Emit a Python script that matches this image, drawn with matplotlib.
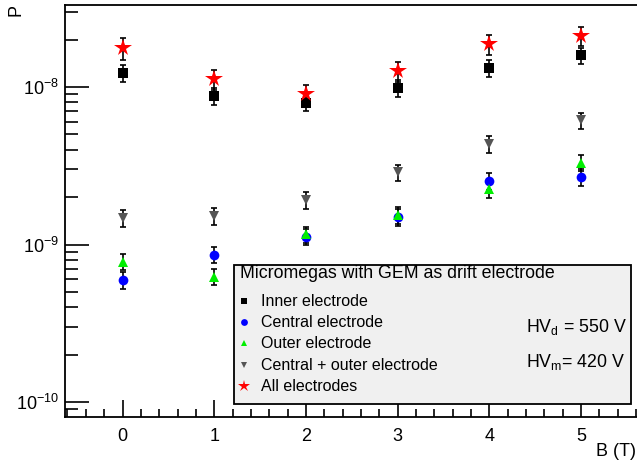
import matplotlib
matplotlib.use("Agg")
import matplotlib.pyplot as plt
from matplotlib.patches import Rectangle
from matplotlib.ticker import FixedLocator, LogLocator, MultipleLocator, NullFormatter
import numpy as np

plt.rcParams['font.family'] = ['Liberation Sans', 'DejaVu Sans']
plt.rcParams['mathtext.fontset'] = 'custom'
plt.rcParams['mathtext.rm'] = 'Liberation Sans'
plt.rcParams['mathtext.it'] = 'Liberation Sans'

# ----------------------------------------
# Data
# ----------------------------------------
b_field = [0, 1, 2, 3, 4, 5]

inner = [1.23e-8, 8.8e-9, 7.9e-9, 9.9e-9, 1.32e-8, 1.59e-8]
inner_err = [1.6e-9, 1.1e-9, 0.9e-9, 1.2e-9, 1.6e-9, 1.9e-9]

central = [5.95e-10, 8.6e-10, 1.12e-9, 1.49e-9, 2.53e-9, 2.69e-9]
central_err = [0.7e-10, 1.0e-10, 1.3e-10, 1.8e-10, 3.0e-10, 3.2e-10]

outer = [7.75e-10, 6.25e-10, 1.16e-9, 1.55e-9, 2.25e-9, 3.3e-9]
outer_err = [0.9e-10, 0.75e-10, 1.4e-10, 1.9e-10, 2.7e-10, 3.9e-10]

central_outer = [1.47e-9, 1.52e-9, 1.92e-9, 2.88e-9, 4.35e-9, 6.15e-9]
central_outer_err = [1.8e-10, 1.8e-10, 2.3e-10, 3.4e-10, 5.2e-10, 7.4e-10]

all_el = [1.77e-8, 1.12e-8, 9.05e-9, 1.26e-8, 1.87e-8, 2.11e-8]
all_err = [2.8e-9, 1.6e-9, 1.3e-9, 1.8e-9, 2.7e-9, 3.0e-9]

y_major = [1e-10, 1e-9, 1e-8]

series = [
    ("Inner electrode", inner, inner_err, "s", "black", 7),
    ("Central electrode", central, central_err, "o", "#0000ff", 7),
    ("Outer electrode", outer, outer_err, "^", "#00ee00", 7),
    ("Central + outer electrode", central_outer, central_outer_err, "v", "#555555", 7),
    ("All electrodes", all_el, all_err, "*", "#ff0000", 13),
]

W, H = 637, 461


def px(x, y):
    # pixel position -> figure fraction
    return x / W, 1 - y / H


fig = plt.figure(figsize=(W / 100, H / 100), dpi=100)
ax = fig.add_axes([65 / W, 44 / H, 1 - 65 / W, 412 / H])

for label, vals, errs, mk, col, ms in series:
    ax.errorbar(b_field, vals, yerr=errs, fmt="none", ecolor="black",
                elinewidth=1.2, capsize=2.5, capthick=1.2, zorder=2)
    ax.plot(b_field, vals, linestyle="none", marker=mk, color=col,
            markersize=ms, markeredgewidth=0, zorder=3)

ax.set_yscale("log")
ax.set_ylim(8.03e-11, 3.32e-8)
ax.set_xlim(-0.627, 5.61)

ax.set_xticks(b_field)
ax.xaxis.set_minor_locator(MultipleLocator(0.2))
ax.yaxis.set_major_locator(FixedLocator(y_major))
ax.yaxis.set_minor_locator(LogLocator(base=10, subs=np.arange(2, 10)))
ax.yaxis.set_minor_formatter(NullFormatter())

ax.tick_params(axis="both", which="both", direction="in", labelsize=13,
               width=1.2, colors="black")
ax.tick_params(axis="y", which="major", length=17, pad=4)
ax.tick_params(axis="y", which="minor", length=9)
ax.tick_params(axis="x", which="major", length=12, pad=8)
ax.tick_params(axis="x", which="minor", length=6)
ax.spines["right"].set_visible(False)
for s in ["left", "bottom", "top"]:
    ax.spines[s].set_linewidth(1.3)

fig.text(*px(636, 451), "B (T)", fontsize=13, ha="right", va="center")
fig.text(*px(16, 4), "P", fontsize=13, ha="center", va="top", rotation=90)

# ----------------------------------------
# Legend box
# ----------------------------------------
box = Rectangle(px(234, 404), (631 - 234) / W, (404 - 265) / H,
                transform=fig.transFigure, facecolor="#f0f0f0",
                edgecolor="black", linewidth=1.3, zorder=5)
fig.add_artist(box)
fig.text(*px(240, 274), "Micromegas with GEM as drift electrode",
         fontsize=12.8, ha="left", va="center", zorder=6)
rows = [301, 322, 343, 365, 386]
for (label, vals, errs, mk, col, ms), yr in zip(series, rows):
    fig.add_artist(plt.Line2D([244 / W], [1 - yr / H], transform=fig.transFigure,
                              marker=mk, color=col, markersize=ms * 0.7,
                              markeredgewidth=0, linestyle="none", zorder=6))
    fig.text(*px(261, yr), label, fontsize=11.5, ha="left", va="center", zorder=6)

fig.text(*px(526, 327), r"HV$_{\mathregular{d}}$ = 550 V", fontsize=12.8,
         ha="left", va="center", zorder=6)
fig.text(*px(526, 362), r"HV$_{\mathregular{m}}$= 420 V", fontsize=12.8,
         ha="left", va="center", zorder=6)

fig.savefig("out.png", dpi=100)
